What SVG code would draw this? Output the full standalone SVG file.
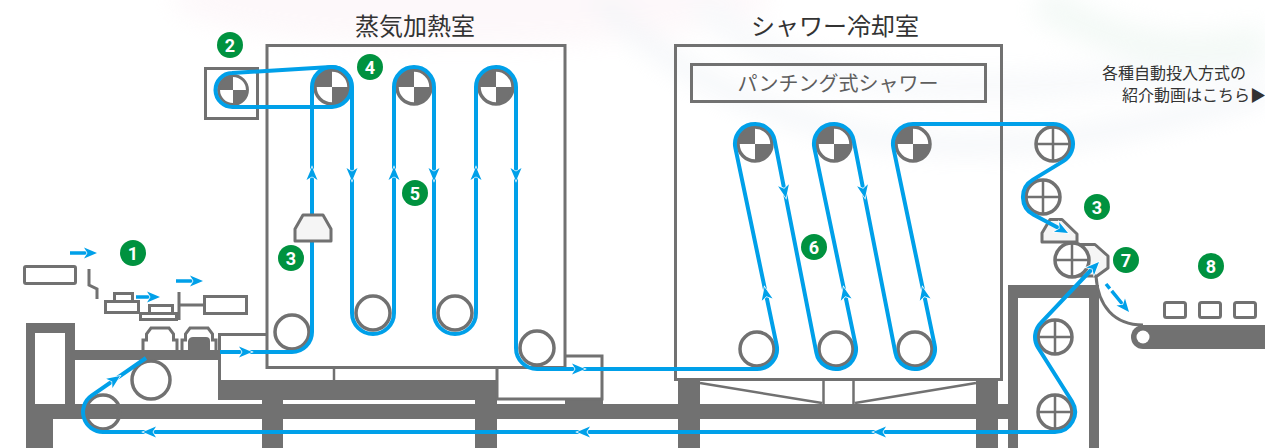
<svg xmlns="http://www.w3.org/2000/svg" xmlns:xlink="http://www.w3.org/1999/xlink" width="1265" height="448" viewBox="0 0 1265 448">
  <defs>
    <style>
      .frame { fill: none; stroke: #717171; stroke-width: 3; }
      .solid { fill: #717171; }
      .thin { fill: none; stroke: #717171; stroke-width: 2.5; }
      .nozzle { fill: #f5f5f5; stroke: #717171; stroke-width: 3; stroke-linejoin: round; }
      .belt { fill: none; stroke: #00a0e9; stroke-width: 4; stroke-linejoin: round; }
      .feed { fill: none; stroke: #00a0e9; stroke-width: 3.5; }
      .title { font-family: "Noto Sans CJK JP", "Noto Sans CJK SC", sans-serif; font-size: 24px; fill: #333; }
      .label { font-family: "Noto Sans CJK JP", "Noto Sans CJK SC", sans-serif; font-size: 20px; fill: #5e5e5e; }
      .link { font-family: "Noto Sans CJK JP", "Noto Sans CJK SC", sans-serif; font-size: 16px; fill: #333; }
      .badge circle { fill: #00923f; }
      .badge text { font-family: Roboto, "Liberation Sans", sans-serif; font-weight: bold; font-size: 18px; fill: #fff; text-anchor: middle; }
    </style>
    <filter id="soft" x="-20%" y="-50%" width="140%" height="200%">
      <feGaussianBlur stdDeviation="12"/>
    </filter>
    <!-- roller with balance quadrants -->
    <g id="rk">
      <circle r="17" fill="#fff"/>
      <path d="M0,0H-17A17,17 0 0 1 0,-17Z M0,0H17A17,17 0 0 1 0,17Z" fill="#717171"/>
      <circle r="17" fill="none" stroke="#717171" stroke-width="3.5"/>
    </g>
    <!-- plain roller -->
    <g id="rp">
      <circle r="17" fill="#fff" stroke="#717171" stroke-width="3.5"/>
    </g>
    <!-- cross roller -->
    <g id="rx">
      <circle r="17" fill="#fff" stroke="#717171" stroke-width="3.5"/>
      <path d="M-17,0H17M0,-17V17" stroke="#717171" stroke-width="2.5"/>
    </g>
    <!-- arrowhead pointing +x, tip at origin -->
    <path id="ah" d="M0,0 L-13,-5.5 L-9.5,0 L-13,5.5Z" fill="#00a0e9" stroke="#fff" stroke-width="1.4" paint-order="stroke"/>
  </defs>

  <!-- backdrop -->
  <rect width="1265" height="448" fill="#fff"/>
  <g id="backdrop" filter="url(#soft)" opacity="0.45">
    <ellipse cx="470" cy="0" rx="300" ry="45" fill="#fbf0f4"/>
    <path d="M600,0 C660,60 720,95 820,125 C940,160 1080,150 1265,92" fill="none" stroke="#e3e9f0" stroke-width="16"/>
    <path d="M700,0 C760,70 900,120 1265,60" fill="none" stroke="#eef2f6" stroke-width="26"/>
    <path d="M1040,0 C1110,45 1190,62 1265,40" fill="none" stroke="#e6f3ec" stroke-width="34"/>
  </g>

  <!-- base structure -->
  <g id="structure">
    <path class="solid" d="M26,323 H75 V404 H65 V333 H35 V404 H26 Z"/>
    <rect class="solid" x="75" y="350" width="143" height="10"/>
    <rect class="solid" x="26" y="404" width="982" height="15"/>
    <rect class="solid" x="26" y="419" width="27" height="29"/>
    <rect class="solid" x="218" y="380" width="279" height="20"/>
    <rect class="solid" x="262" y="400" width="21" height="48"/>
    <rect class="solid" x="475" y="400" width="22" height="48"/>
    <rect class="solid" x="565" y="398" width="38" height="6"/>
    <rect class="solid" x="678" y="380" width="22" height="68"/>
    <rect class="solid" x="976" y="380" width="22" height="68"/>
    <path class="solid" d="M1008,285 H1099 V448 H1089 V298 H1018 V448 H1008 Z"/>
    <path class="frame" d="M267,334.5 H219.5 V380"/>
    <line class="thin" x1="334" y1="368" x2="334" y2="381"/>
    <path class="frame" d="M497,368 V399 H602 V356 H566" fill="#fff"/>
    <path class="thin" d="M700,383 L822,403 M855,403 L976,383 M823.5,380 V404 M853.5,380 V404"/>
  </g>

  <!-- feeder (1) -->
  <g id="feeder">
    <rect class="frame" x="24.5" y="266.5" width="51" height="17" rx="1.5"/>
    <polyline class="frame" points="89,269 89,285 97,289 97,299"/>
    <rect class="frame" x="105.5" y="301.5" width="33" height="11"/>
    <rect class="frame" x="114.5" y="293.5" width="18" height="8"/>
    <rect class="frame" x="140.5" y="313.5" width="36" height="6"/>
    <rect class="frame" x="149.5" y="305.5" width="23" height="8"/>
    <path class="frame" d="M179,292 V320 M179,305 H203"/>
    <rect class="frame" x="204.5" y="296.5" width="42" height="17"/>
    <path class="frame" d="M143,350 V340 H146.5 V334 L151,328 H169 L173.5,334 V340 H177 V350" fill="#fff"/>
    <path class="frame" d="M182,350 V340 H185.5 V334 L190,328 H208 L212.5,334 V340 H216 V350" fill="#fff"/>
    <path class="solid" d="M188,350 V341 Q189,337 193,337 H206 Q210,337 210,341 V350 Z"/>
    <circle cx="103" cy="412" r="17" fill="none" stroke="#717171" stroke-width="3.5"/>
    <circle cx="151" cy="380" r="19" fill="#fff" stroke="#717171" stroke-width="3.5"/>
  </g>

  <!-- steam heating chamber -->
  <g id="steam-chamber">
    <rect class="frame" x="267" y="45.5" width="298" height="322"/>
    <text class="title" x="415" y="35" text-anchor="middle">蒸気加熱室</text>
    <rect class="frame" x="205.5" y="68.5" width="52" height="50"/>
    <use href="#rk" transform="translate(233,90) scale(0.85)"/>
    <use href="#rk" x="332" y="87"/>
    <use href="#rk" x="414" y="87"/>
    <use href="#rk" x="496" y="87"/>
    <use href="#rp" x="292" y="332"/>
    <use href="#rp" x="373" y="313"/>
    <use href="#rp" x="455" y="313"/>
    <use href="#rp" x="537" y="348"/>
  </g>

  <!-- shower cooling chamber -->
  <g id="shower-chamber">
    <rect class="frame" x="675.5" y="45.5" width="326" height="334"/>
    <text class="title" x="835" y="35" text-anchor="middle">シャワー冷却室</text>
    <rect class="frame" x="691.5" y="64.5" width="294" height="37" fill="#fff"/>
    <text class="label" x="838" y="91" text-anchor="middle">パンチング式シャワー</text>
    <use href="#rk" x="755" y="144"/>
    <use href="#rk" x="834" y="144"/>
    <use href="#rk" x="913" y="144"/>
    <use href="#rp" x="757" y="349"/>
    <use href="#rp" x="836" y="349"/>
    <use href="#rp" x="915" y="349"/>
  </g>

  <!-- take-off rollers and nozzles -->
  <g id="takeoff">
    <use href="#rx" x="1053" y="144"/>
    <use href="#rx" x="1043" y="197"/>
    <polygon class="nozzle" points="1042,242 1042,233 1050,219.5 1062,219.5 1077,234 1077,242"/>
    <polygon class="nozzle" points="1078,244.5 1095,244.5 1108,256 1108,268 1097,276 1078,276" fill="#fff"/>
    <use href="#rx" x="1072" y="260"/>
    <use href="#rx" x="1055" y="337"/>
    <use href="#rx" x="1055" y="412"/>
  </g>

  <!-- output conveyor -->
  <g id="conveyor">
    <path d="M1096,276 C1098,306 1114,325 1143,325" fill="none" stroke="#717171" stroke-width="3"/>
    <path class="solid" d="M1143,325 H1265 V349 H1143 A12,12 0 0 1 1143,325 Z"/>
    <circle cx="1143" cy="337" r="6.5" fill="#fff"/>
    <rect class="frame" x="1164.5" y="302.5" width="21" height="15" rx="2"/>
    <rect class="frame" x="1199.5" y="302.5" width="21" height="15" rx="2"/>
    <rect class="frame" x="1234.5" y="302.5" width="21" height="15" rx="2"/>
  </g>

  <!-- fabric path, belts and flow arrows -->
  <g id="connectors">
    <path class="belt" d="M232,73 L330.8,67 A20,20 0 1 1 332,107 L233,107 A17,17 0 0 1 232,73 Z"/>
    <path class="belt" d="M220,352 H292 A20,20 0 0 0 312,332 V87 A20,20 0 0 1 352,87 V313 A21,21 0 0 0 394,313 V87 A20,20 0 0 1 434,87 V313 A21,21 0 0 0 476,313 V87 A20,20 0 0 1 516,87 V348 A21,21 0 0 0 537,369 H757 A20,20 0 0 0 776.6,344.9 L735.4,148.1 A20,20 0 1 1 774.6,140.15 L816.4,352.85 A20,20 0 1 0 855.6,344.9 L814.4,148.1 A20,20 0 1 1 853.6,140.15 L895.4,352.85 A20,20 0 1 0 934.6,344.9 L893.4,148.1 A20,20 0 0 1 913,124 H1053 A20,20 0 0 1 1063.4,161.1 L1032.6,179.9 A20,20 0 0 0 1033.6,214.7 L1060,228.8"/>
    <path class="belt" d="M146,358 L91.6,395.6 A20,20 0 0 0 103,432 H1055 A20,20 0 0 0 1071.9,401.3 L1038.1,347.7 A20,20 0 0 1 1040.9,322.9 L1092,269"/>
    <path class="feed" d="M70,253 H88 M136,297 H151 M176,281 H194"/>
    <path class="feed" d="M1106,284 L1124,306" stroke-dasharray="6 3 40"/>

    <use href="#ah" transform="translate(97,253)"/>
    <use href="#ah" transform="translate(160,297)"/>
    <use href="#ah" transform="translate(203,281)"/>
    <use href="#ah" transform="translate(252,352)"/>
    <use href="#ah" transform="translate(120,376) rotate(-34.6)"/>
    <use href="#ah" transform="translate(312,167) rotate(-90)"/>
    <use href="#ah" transform="translate(352,181) rotate(90)"/>
    <use href="#ah" transform="translate(394,167) rotate(-90)"/>
    <use href="#ah" transform="translate(434,181) rotate(90)"/>
    <use href="#ah" transform="translate(476,167) rotate(-90)"/>
    <use href="#ah" transform="translate(516,181) rotate(90)"/>
    <use href="#ah" transform="translate(585,369)"/>
    <use href="#ah" transform="translate(764.5,287) rotate(-101.8)"/>
    <use href="#ah" transform="translate(843.5,287) rotate(-101.8)"/>
    <use href="#ah" transform="translate(922.5,287) rotate(-101.8)"/>
    <use href="#ah" transform="translate(786,198) rotate(78.9)"/>
    <use href="#ah" transform="translate(865,198) rotate(78.9)"/>
    <use href="#ah" transform="translate(1068,233) rotate(28)"/>
    <use href="#ah" transform="translate(1099,262) rotate(-46)"/>
    <use href="#ah" transform="translate(1129,312) rotate(50.6)"/>
    <use href="#ah" transform="translate(143,432) rotate(180)"/>
    <use href="#ah" transform="translate(577,432) rotate(180)"/>
    <use href="#ah" transform="translate(873,432) rotate(180)"/>
  </g>

  <!-- steam nozzle sits over the rising fabric -->
  <g id="steam-nozzle">
    <polygon class="nozzle" points="303,215 323,215 331,229 331,241 295,241 295,229"/>
  </g>

  <!-- step badges -->
  <g id="badge-1" class="badge"><circle cx="133" cy="253" r="13"/><text x="133" y="259.5">1</text></g>
  <g id="badge-2" class="badge"><circle cx="230" cy="45" r="13"/><text x="230" y="51.5">2</text></g>
  <g id="badge-3a" class="badge"><circle cx="291" cy="258" r="13"/><text x="291" y="264.5">3</text></g>
  <g id="badge-4" class="badge"><circle cx="370" cy="67" r="13"/><text x="370" y="73.5">4</text></g>
  <g id="badge-5" class="badge"><circle cx="415" cy="193" r="13"/><text x="415" y="199.5">5</text></g>
  <g id="badge-6" class="badge"><circle cx="814" cy="247" r="13"/><text x="814" y="253.5">6</text></g>
  <g id="badge-3b" class="badge"><circle cx="1097" cy="207" r="13"/><text x="1097" y="213.5">3</text></g>
  <g id="badge-7" class="badge"><circle cx="1126" cy="260" r="13"/><text x="1126" y="266.5">7</text></g>
  <g id="badge-8" class="badge"><circle cx="1211" cy="266" r="13"/><text x="1211" y="272.5">8</text></g>

  <!-- video link caption -->
  <g id="video-link">
    <text class="link" x="1102" y="79">各種自動投入方式の</text>
    <text class="link" x="1122" y="101">紹介動画はこちら▶</text>
  </g>
</svg>
